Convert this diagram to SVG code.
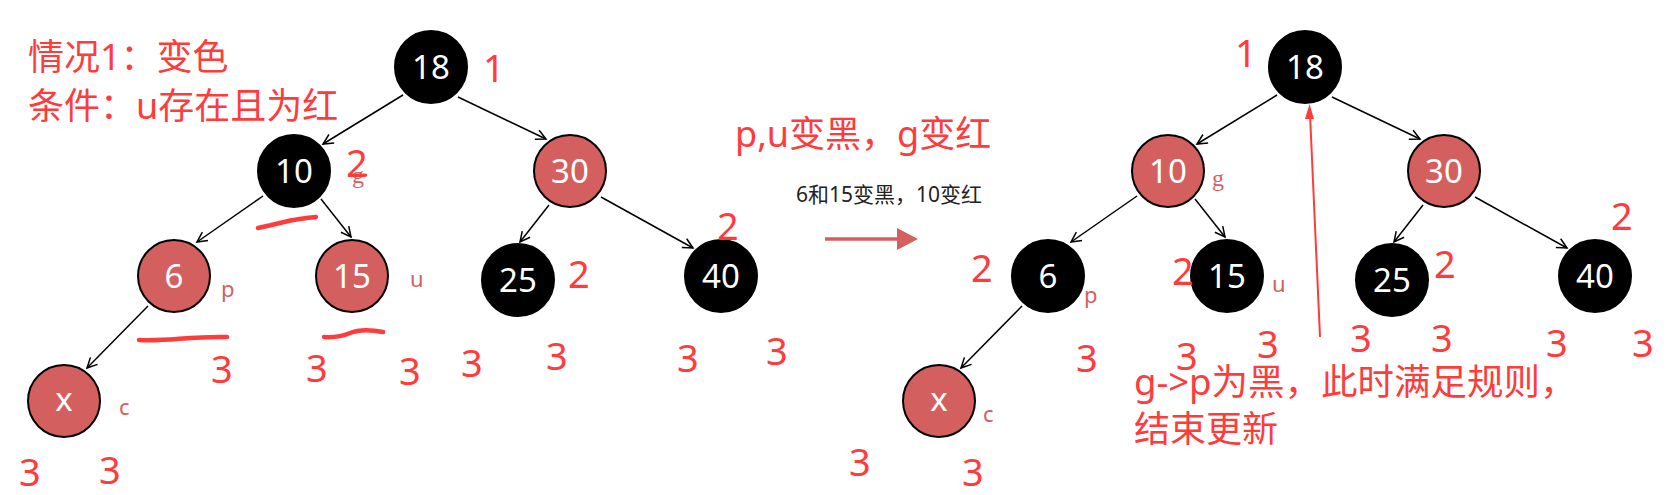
<svg xmlns="http://www.w3.org/2000/svg" width="1667" height="495" viewBox="0 0 1667 495">
<style>
.nb{fill:#000;stroke:#000;stroke-width:2}
.nr{fill:#d45f5f;stroke:#000;stroke-width:2}
.nt{font-family:"Noto Sans","Open Sans",sans-serif;font-size:33px;fill:#fff;text-anchor:middle}
.rn{font-family:"Noto Sans","Open Sans",sans-serif;font-size:38px;fill:#ff3b3b}
.lb{font-family:"Noto Sans","Open Sans",sans-serif;font-size:22px;fill:#d45f5f}
.lg{font-family:"Liberation Serif",serif;font-size:24px;fill:#d45f5f}
.big{font-family:"Noto Sans","Noto Sans CJK SC",sans-serif;font-size:36px;fill:#ff3b3b}
.note{font-family:"Noto Sans","Noto Sans CJK SC",sans-serif;font-size:21px;fill:#222}
.e{stroke:#000;stroke-width:1.5;fill:none;marker-end:url(#ah)}
.hand{stroke:#ff3b3b;stroke-width:4.5;fill:none;stroke-linecap:round}
</style>
<defs>
<marker id="ah" markerUnits="userSpaceOnUse" markerWidth="14" markerHeight="14" refX="11" refY="6" orient="auto">
<path d="M1,1 L11,6 L1,11" fill="none" stroke="#000" stroke-width="1.5"/>
</marker>
</defs>

<g id="connectors">
<line class="e" x1="403" y1="95" x2="323" y2="144"/>
<line class="e" x1="458" y1="97" x2="546" y2="139"/>
<line class="e" x1="263" y1="196" x2="197" y2="242"/>
<line class="e" x1="321" y1="199" x2="351" y2="237"/>
<line class="e" x1="549" y1="205" x2="520" y2="242"/>
<line class="e" x1="601" y1="197" x2="693" y2="248"/>
<line class="e" x1="148" y1="306" x2="87" y2="368"/>
<line class="e" x1="1277" y1="95" x2="1197" y2="144"/>
<line class="e" x1="1332" y1="97" x2="1420" y2="139"/>
<line class="e" x1="1137" y1="196" x2="1071" y2="242"/>
<line class="e" x1="1195" y1="199" x2="1225" y2="237"/>
<line class="e" x1="1423" y1="205" x2="1394" y2="242"/>
<line class="e" x1="1475" y1="197" x2="1567" y2="248"/>
<line class="e" x1="1022" y1="306" x2="961" y2="368"/>
</g>

<g id="left-tree">
<g id="L18"><circle class="nb" cx="431" cy="67" r="36"/><text class="nt" x="431" y="79">18</text></g>
<g id="L10"><circle class="nb" cx="294" cy="171" r="36"/><text class="nt" x="294" y="183">10</text></g>
<g id="L30"><circle class="nr" cx="570" cy="171" r="36"/><text class="nt" x="570" y="183">30</text></g>
<g id="L6"><circle class="nr" cx="174" cy="276" r="36"/><text class="nt" x="174" y="288">6</text></g>
<g id="L15"><circle class="nr" cx="352" cy="276" r="36"/><text class="nt" x="352" y="288">15</text></g>
<g id="L25"><circle class="nb" cx="518" cy="280" r="36"/><text class="nt" x="518" y="292">25</text></g>
<g id="L40"><circle class="nb" cx="721" cy="276" r="36"/><text class="nt" x="721" y="288">40</text></g>
<g id="Lx"><circle class="nr" cx="64" cy="401" r="36"/><text class="nt" x="64" y="411">x</text></g>
</g>

<g id="right-tree">
<g id="R18"><circle class="nb" cx="1305" cy="67" r="36"/><text class="nt" x="1305" y="79">18</text></g>
<g id="R10"><circle class="nr" cx="1168" cy="171" r="36"/><text class="nt" x="1168" y="183">10</text></g>
<g id="R30"><circle class="nr" cx="1444" cy="171" r="36"/><text class="nt" x="1444" y="183">30</text></g>
<g id="R6"><circle class="nb" cx="1048" cy="276" r="36"/><text class="nt" x="1048" y="288">6</text></g>
<g id="R15"><circle class="nb" cx="1227" cy="276" r="36"/><text class="nt" x="1227" y="288">15</text></g>
<g id="R25"><circle class="nb" cx="1392" cy="280" r="36"/><text class="nt" x="1392" y="292">25</text></g>
<g id="R40"><circle class="nb" cx="1595" cy="276" r="36"/><text class="nt" x="1595" y="288">40</text></g>
<g id="Rx"><circle class="nr" cx="939" cy="401" r="36"/><text class="nt" x="939" y="411">x</text></g>
</g>

<g id="labels">
<text class="lb" x="221" y="297">p</text>
<text class="lb" x="410" y="287">u</text>
<text class="lb" x="119" y="415">c</text>
<text class="lg" x="352" y="183">g</text>
<text class="lg" x="1212" y="186">g</text>
<text class="lb" x="1084" y="303">p</text>
<text class="lb" x="1272" y="292">u</text>
<text class="lb" x="983" y="422">c</text>
</g>

<g id="annotations">
<text class="big" x="28" y="70">情况1：变色</text>
<text class="big" x="28" y="119">条件：u存在且为红</text>
<text class="big" x="735" y="147">p,u变黑，g变红</text>
<text class="note" x="796" y="202">6和15变黑，10变红</text>
<line x1="825" y1="239" x2="899" y2="239" stroke="#d45f5f" stroke-width="3.5"/>
<path d="M897,228 L918,239 L897,250 Z" fill="#d45f5f"/>
<text class="big" x="1134" y="395" style="font-size:36.5px">g-&gt;p为黑，此时满足规则，</text>
<text class="big" x="1134" y="442">结束更新</text>
<line x1="1320" y1="337" x2="1310" y2="114" stroke="#ff3b3b" stroke-width="2"/>
<path d="M1305,119 L1309.5,104 L1314,119 Z" fill="#ff3b3b"/>
<path class="hand" d="M258,228 Q272,225 284,222 T316,217"/>
<path class="hand" d="M139,340 C165,342 190,336 227,337"/>
<path class="hand" d="M324,337 Q338,338 350,333 T383,332"/>
<line x1="348" y1="175" x2="367" y2="175" stroke="#ff3b3b" stroke-width="2.5"/>
</g>

<g id="counts">
<text class="rn" x="483" y="82">1</text>
<text class="rn" x="346" y="177">2</text>
<text class="rn" x="568" y="288">2</text>
<text class="rn" x="717" y="240">2</text>
<text class="rn" x="211" y="383">3</text>
<text class="rn" x="306" y="382">3</text>
<text class="rn" x="399" y="385">3</text>
<text class="rn" x="461" y="377">3</text>
<text class="rn" x="546" y="370">3</text>
<text class="rn" x="677" y="372">3</text>
<text class="rn" x="766" y="365">3</text>
<text class="rn" x="19" y="486">3</text>
<text class="rn" x="99" y="484">3</text>
<text class="rn" x="1235" y="67">1</text>
<text class="rn" x="971" y="282">2</text>
<text class="rn" x="1172" y="285">2</text>
<text class="rn" x="1434" y="278">2</text>
<text class="rn" x="1611" y="230">2</text>
<text class="rn" x="1076" y="372">3</text>
<text class="rn" x="1176" y="370">3</text>
<text class="rn" x="1257" y="358">3</text>
<text class="rn" x="1350" y="352">3</text>
<text class="rn" x="1431" y="352">3</text>
<text class="rn" x="1546" y="357">3</text>
<text class="rn" x="1632" y="357">3</text>
<text class="rn" x="849" y="476">3</text>
<text class="rn" x="962" y="486">3</text>
</g>
</svg>
